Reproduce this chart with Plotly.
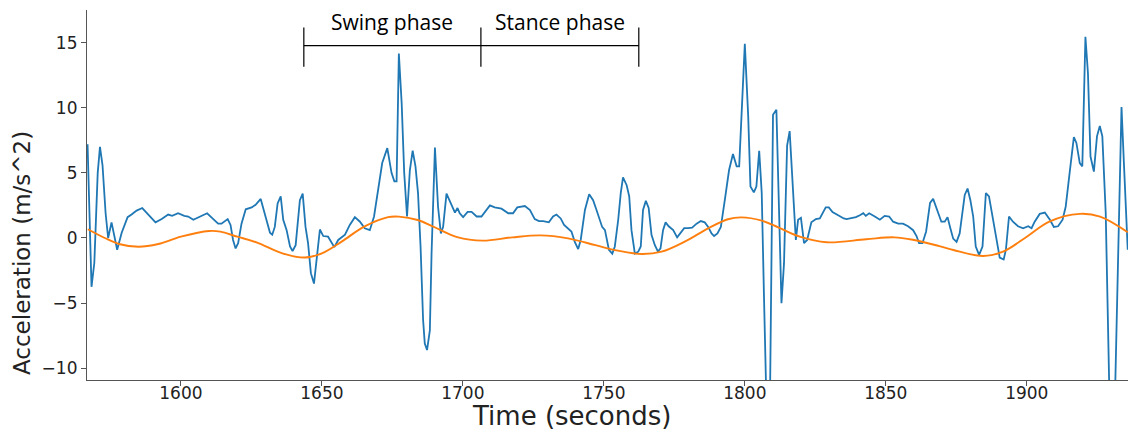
import plotly.graph_objects as go

# ---- data ----
time_raw = [1566.9, 1568.3, 1569.3, 1570.5, 1571.3, 1572.2, 1573.3, 1574.2, 1575.4, 1576.3,
            1577.4, 1579.0, 1581.1, 1582.5, 1584.3, 1586.3, 1587.8, 1589.6, 1591.0, 1593.2,
            1595.5, 1596.9, 1599.0, 1601.2, 1602.6, 1604.4, 1606.7, 1609.3, 1611.5, 1613.2,
            1614.4, 1616.6, 1617.6, 1618.5, 1619.4, 1620.3, 1621.5, 1623.0, 1625.1, 1626.5,
            1628.3, 1629.8, 1631.6, 1632.4, 1633.3, 1634.3, 1635.4, 1636.3, 1637.5, 1638.7,
            1639.6, 1640.7, 1642.2, 1643.2, 1644.2, 1645.1, 1646.1, 1647.2, 1648.1, 1649.3,
            1650.5, 1652.2, 1654.4, 1655.8, 1658.2, 1659.9, 1661.7, 1663.5, 1665.2, 1667.0,
            1668.5, 1669.8, 1671.4, 1673.2, 1674.7, 1675.7, 1676.5, 1677.3, 1678.3, 1679.2,
            1680.2, 1681.2, 1682.2, 1683.2, 1684.1, 1685.0, 1685.9, 1686.5, 1687.3, 1688.3,
            1688.9, 1690.1, 1691.2, 1692.2, 1693.0, 1694.2, 1696.0, 1697.2, 1698.1, 1698.9,
            1700.1, 1701.7, 1703.1, 1704.9, 1706.6, 1709.6, 1711.3, 1713.7, 1716.1, 1717.8,
            1719.3, 1722.0, 1723.8, 1725.5, 1727.0, 1728.5, 1730.5, 1732.0, 1733.2, 1734.7,
            1735.9, 1737.3, 1738.5, 1739.7, 1740.9, 1741.8, 1743.3, 1744.8, 1746.2, 1747.4,
            1748.6, 1749.4, 1750.4, 1751.8, 1753.0, 1753.9, 1755.1, 1756.0, 1756.8, 1758.1,
            1759.0, 1759.8, 1761.0, 1762.2, 1763.1, 1763.9, 1764.9, 1765.9, 1766.9, 1768.1,
            1769.2, 1770.1, 1771.0, 1771.9, 1773.0, 1774.6, 1776.0, 1777.3, 1778.5, 1779.9,
            1781.3, 1782.9, 1784.4, 1785.8, 1787.0, 1788.2, 1789.1, 1790.3, 1791.5, 1792.9,
            1794.4, 1795.8, 1797.1, 1798.0, 1799.2, 1800.0, 1801.2, 1802.0, 1803.2, 1804.1,
            1805.1, 1806.0, 1806.8, 1807.7, 1808.9, 1809.5, 1810.0, 1811.2, 1812.1, 1813.0,
            1813.9, 1815.0, 1815.9, 1816.9, 1818.1, 1818.9, 1819.9, 1821.0, 1822.1, 1823.6,
            1825.2, 1826.6, 1828.7, 1829.8, 1831.1, 1833.1, 1835.1, 1836.1, 1837.8, 1839.4,
            1840.8, 1842.0, 1842.9, 1844.1, 1846.1, 1847.9, 1849.6, 1851.2, 1852.6, 1854.4,
            1856.1, 1857.9, 1859.7, 1860.9, 1861.8, 1863.0, 1864.3, 1865.7, 1866.8, 1868.2,
            1869.7, 1870.9, 1871.9, 1872.9, 1873.9, 1875.1, 1876.2, 1878.0, 1879.0, 1880.0,
            1881.0, 1881.9, 1883.1, 1884.3, 1885.5, 1886.6, 1888.0, 1889.3, 1890.4, 1891.8,
            1892.6, 1893.7, 1895.1, 1896.9, 1898.7, 1900.5, 1901.7, 1902.8, 1904.6, 1906.4,
            1908.2, 1909.6, 1911.1, 1912.7, 1913.8, 1915.2, 1916.7, 1917.6, 1918.8, 1919.7,
            1920.8, 1921.7, 1922.6, 1923.8, 1924.9, 1925.9, 1926.8, 1928.0, 1929.4, 1931.2,
            1932.4, 1933.6, 1934.5, 1935.8]

accel_raw = [7.2, -3.75, -1.9, 5.0, 7.0, 5.6, 1.9, 0.0, 1.2, 0.25,
             -0.9, 0.4, 1.6, 1.8, 2.1, 2.3, 1.95, 1.5, 1.2, 1.45,
             1.8, 1.7, 1.9, 1.7, 1.65, 1.4, 1.65, 1.9, 1.45, 1.1,
             1.1, 1.45, 1.0, -0.15, -0.8, -0.4, 1.1, 2.2, 2.35, 2.55,
             3.0, 1.9, 0.4, 0.25, 0.85, 2.65, 3.2, 1.4, 0.6, -0.65,
             -1.0, -0.55, 2.9, 3.4, 0.85, -0.4, -2.7, -3.5, -1.7, 0.65,
             0.15, 0.1, -0.7, -0.15, 0.25, 1.0, 1.6, 1.25, 0.75, 0.6,
             1.65, 3.45, 5.75, 6.9, 5.0, 4.35, 4.35, 14.15, 10.35, 5.0,
             1.65, 5.2, 6.7, 5.5, 3.45, -0.65, -6.3, -8.1, -8.6, -7.1,
             -1.2, 6.95, 2.4, 0.35, 0.85, 3.4, 2.55, 1.95, 2.3, 1.9,
             1.6, 2.0, 2.0, 1.65, 1.65, 2.5, 2.35, 2.25, 1.9, 1.9,
             2.35, 2.45, 2.15, 1.45, 1.3, 1.3, 1.2, 1.65, 1.8, 1.5,
             1.0, 0.7, 0.5, -0.3, -0.85, -0.15, 2.15, 3.35, 2.9, 2.15,
             1.3, 0.85, 0.6, -0.9, -1.2, -0.65, 1.4, 3.45, 4.65, 4.05,
             3.2, 0.6, -1.2, -1.05, -0.65, 2.15, 2.85, 2.3, 0.25, -0.55,
             -1.05, -0.8, 0.6, 1.2, 0.9, 0.6, 0.05, 0.4, 0.75, 0.75,
             0.8, 1.1, 1.3, 1.2, 0.85, 0.35, 0.15, 0.35, 0.85, 2.9,
             5.2, 6.45, 5.5, 5.5, 10.9, 14.9, 9.35, 3.95, 3.5, 3.95,
             6.7, 3.45, -4.5, -13.0, -13.0, -1.95, 9.45, 9.85, 2.15, -5.0,
             -1.95, 7.1, 8.2, 4.7, -0.15, 1.4, 1.55, -0.4, -0.15, 1.2,
             1.45, 1.5, 2.35, 2.35, 2.0, 1.75, 1.5, 1.45, 1.5, 1.6,
             1.75, 1.9, 1.7, 1.9, 1.65, 1.4, 1.7, 1.65, 1.25, 1.1,
             1.1, 0.9, 0.6, 0.15, -0.4, -0.4, 0.5, 2.7, 3.0, 2.2,
             1.25, 1.25, 1.6, 0.75, -0.05, -0.3, 0.35, 3.3, 3.8, 2.9,
             1.65, -0.65, -1.3, -0.65, 3.45, 3.2, 1.4, -0.15, -1.5, -1.65,
             -0.9, 1.65, 1.25, 0.9, 0.75, 0.9, 0.75, 1.25, 1.85, 1.95,
             1.4, 0.85, 0.9, 1.4, 2.4, 5.0, 7.75, 7.3, 5.75, 5.5,
             15.45, 12.65, 6.25, 5.1, 7.8, 8.6, 7.8, 1.9, -13.0, -13.0,
             -1.2, 10.05, 5.5, -0.9]

time_smooth = [1567, 1573, 1578, 1585, 1592, 1600, 1610, 1614, 1620, 1627,
               1636, 1644, 1650, 1657, 1665, 1673.5, 1677.3, 1684, 1689.5, 1698,
               1707, 1717.5, 1727.5, 1737.3, 1747, 1755, 1763.4, 1770.5, 1778.7, 1787,
               1794, 1798.8, 1806, 1812, 1819.5, 1829, 1843, 1853, 1860, 1869,
               1874, 1884.5, 1891.6, 1900, 1908, 1918.8, 1926, 1935.8]
accel_smooth = [0.67, 0.0, -0.46, -0.67, -0.46, 0.1, 0.54, 0.49, 0.1, -0.35,
                -1.18, -1.5, -1.18, -0.28, 0.87, 1.6, 1.64, 1.38, 0.87, 0.07,
                -0.2, 0.05, 0.2, -0.03, -0.55, -0.97, -1.23, -1.05, -0.28, 0.74,
                1.44, 1.58, 1.33, 0.8, 0.1, -0.33, -0.1, 0.05, -0.15, -0.62,
                -0.92, -1.38, -1.05, 0.1, 1.26, 1.85, 1.64, 0.44]

phase_bounds = [1643.6, 1706.4, 1762.4]
phase_labels = ["Swing phase", "Stance phase"]

x_range = [1566.7, 1935.9]
y_range = [-10.9, 17.5]
y_ticks = [-10, -5, 0, 5, 10, 15]
y_ticktext = ["\u221210", "\u22125", "0", "5", "10", "15"]
x_ticks = [1600, 1650, 1700, 1750, 1800, 1850, 1900]

fig = go.Figure()
fig.add_trace(go.Scatter(x=time_raw, y=accel_raw, mode="lines",
                         line=dict(color="#1f77b4", width=1.8), showlegend=False))
fig.add_trace(go.Scatter(x=time_smooth, y=accel_smooth, mode="lines",
                         line=dict(color="#ff7f0e", width=1.9, shape="spline", smoothing=1.0),
                         showlegend=False))

# phase bracket
bar_y = 14.77
tick_lo, tick_hi = 13.15, 16.15
fig.add_shape(type="line", x0=phase_bounds[0], x1=phase_bounds[-1], y0=bar_y, y1=bar_y,
              xref="x", yref="y", line=dict(color="black", width=1.2))
for b in phase_bounds:
    fig.add_shape(type="line", x0=b, x1=b, y0=tick_lo, y1=tick_hi,
                  xref="x", yref="y", line=dict(color="black", width=1.2))
for i, lab in enumerate(phase_labels):
    fig.add_annotation(x=(phase_bounds[i] + phase_bounds[i + 1]) / 2, y=16.6, text=lab,
                       xref="x", yref="y", showarrow=False,
                       font=dict(family="Open Sans", size=21, color="black"))

fig.add_annotation(x=(571 - 87) / 1041, y=(380 - 416) / 370, xref="paper", yref="paper",
                   text="Time (seconds)", showarrow=False, yanchor="middle", xanchor="center",
                   font=dict(family="DejaVu Sans", size=26, color="#222"))
fig.add_annotation(x=(22 - 87) / 1041, y=(380 - 253) / 370, xref="paper", yref="paper",
                   text="Acceleration (m/s^2)", showarrow=False, textangle=-90,
                   xanchor="center", yanchor="middle",
                   font=dict(family="DejaVu Sans", size=23, color="#222"))

axis_common = dict(showgrid=False, zeroline=False, showline=True, linecolor="#555",
                   linewidth=1.2, ticks="outside", ticklen=5, tickcolor="#555",
                   tickfont=dict(family="DejaVu Sans", size=17, color="#222"), mirror=False)
fig.update_xaxes(range=x_range, tickvals=x_ticks, ticklabelstandoff=-8, **axis_common)
fig.update_yaxes(range=y_range, tickvals=y_ticks, ticktext=y_ticktext, **axis_common)

fig.update_layout(width=1128, height=430, margin=dict(l=87, r=0, t=10, b=50),
                  plot_bgcolor="white", paper_bgcolor="white")

fig.write_html("out.html", config={"displayModeBar": False},
               post_script="document.body.style.margin='0';document.body.style.overflow='hidden';")
